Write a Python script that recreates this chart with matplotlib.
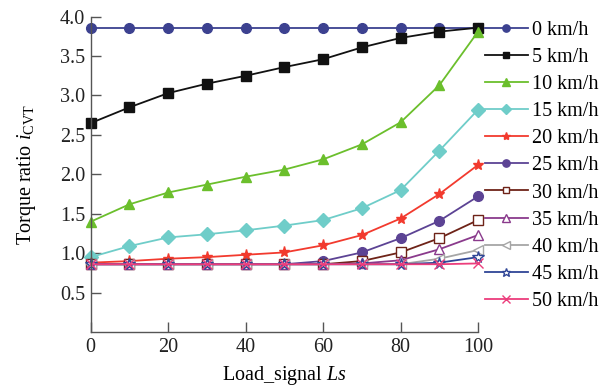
import numpy as np
import matplotlib.pyplot as plt

plt.rcParams['font.family'] = ['Liberation Serif', 'DejaVu Serif']
plt.rcParams['mathtext.fontset'] = 'custom'
plt.rcParams['mathtext.rm'] = 'Liberation Serif'
plt.rcParams['mathtext.it'] = 'Liberation Serif:italic'
plt.rcParams['font.size'] = 12

# Данные
load_signal = [0, 10, 20, 30, 40, 50, 60, 70, 80, 90, 100]
speeds = ['0 km/h', '5 km/h', '10 km/h', '15 km/h', '20 km/h', '25 km/h',
          '30 km/h', '35 km/h', '40 km/h', '45 km/h', '50 km/h']

v0 = [3.86, 3.86, 3.86, 3.86, 3.86, 3.86, 3.86, 3.86, 3.86, 3.86, 3.86]
v5 = [2.65, 2.85, 3.03, 3.15, 3.25, 3.36, 3.46, 3.61, 3.73, 3.81, 3.86]
v10 = [1.40, 1.62, 1.77, 1.87, 1.97, 2.06, 2.19, 2.38, 2.66, 3.13, 3.81]
v15 = [0.95, 1.09, 1.20, 1.24, 1.29, 1.35, 1.42, 1.57, 1.80, 2.30, 2.82]
v20 = [0.88, 0.90, 0.93, 0.95, 0.98, 1.01, 1.10, 1.23, 1.44, 1.75, 2.12]
v25 = [0.86, 0.86, 0.86, 0.86, 0.86, 0.86, 0.90, 1.01, 1.19, 1.41, 1.72]
v30 = [0.86, 0.86, 0.86, 0.86, 0.86, 0.86, 0.86, 0.90, 1.01, 1.19, 1.42]
v35 = [0.86, 0.86, 0.86, 0.86, 0.86, 0.86, 0.86, 0.87, 0.91, 1.05, 1.23]
v40 = [0.86, 0.86, 0.86, 0.86, 0.86, 0.86, 0.86, 0.86, 0.86, 0.93, 1.04]
v45 = [0.86, 0.86, 0.86, 0.86, 0.86, 0.86, 0.86, 0.86, 0.86, 0.88, 0.95]
v50 = [0.86, 0.86, 0.86, 0.86, 0.86, 0.86, 0.86, 0.86, 0.86, 0.86, 0.87]

series = [v0, v5, v10, v15, v20, v25, v30, v35, v40, v45, v50]

# Стиль каждой линии: цвет, маркер, заливка маркера
styles = [
    ('#3c4190', 'o', '#3c4190'),
    ('#111111', 's', '#111111'),
    ('#6bbf2c', '^', '#6bbf2c'),
    ('#6fcdc9', 'D', '#6fcdc9'),
    ('#f23a2e', '*', '#f23a2e'),
    ('#5c4394', 'o', '#5c4394'),
    ('#6e2318', 's', 'white'),
    ('#8a3a8c', '^', 'white'),
    ('#a6a6a6', '<', 'white'),
    ('#2f4596', '*', 'white'),
    ('#ec3d7c', 'x', '#ec3d7c'),
]
sizes = [7, 6.5, 7, 7, 8, 7, 6.5, 7.5, 7.5, 8.5, 7]

fig = plt.figure(figsize=(6.09, 3.87), dpi=100)
ax = fig.add_axes([0.149, 0.142, 0.636, 0.815])

for vals, name, (c, m, fc), ms in zip(series, speeds, styles, sizes):
    ax.plot(load_signal, vals, color=c, marker=m, markerfacecolor=fc,
            markeredgecolor=c, markersize=ms, linewidth=1.3,
            markeredgewidth=1.0, label=name, clip_on=False)

ax.set_xlim(0, 100)
ax.set_ylim(0, 4.0)
ax.set_xticks([0, 20, 40, 60, 80, 100])
ax.set_yticks([0.5, 1.0, 1.5, 2.0, 2.5, 3.0, 3.5, 4.0])
ax.set_yticklabels(['0.5', '1.0', '1.5', '2.0', '2.5', '3.0', '3.5', '4.0'])
ax.tick_params(direction='in', length=7, width=1, labelsize=14.5, pad=4)
ax.spines['top'].set_visible(False)
ax.spines['right'].set_visible(False)
for s in ['left', 'bottom']:
    ax.spines[s].set_color('#555555')
    ax.spines[s].set_linewidth(1.0)
ax.tick_params(colors='#555555', labelcolor='#222222')

ax.set_xlabel('Load_signal $Ls$', fontsize=14.5, labelpad=5)
ax.set_ylabel('Torque ratio $i_{\\mathrm{CVT}}$', fontsize=14.5, labelpad=16)

ax.legend(loc='upper left', bbox_to_anchor=(0.796, 0.947),
          bbox_transform=fig.transFigure, frameon=False, fontsize=14.5,
          handlelength=2.15, handletextpad=0.2, labelspacing=0.4,
          borderaxespad=0, borderpad=0, markerscale=0.75)

plt.savefig('out.png', dpi=100)
